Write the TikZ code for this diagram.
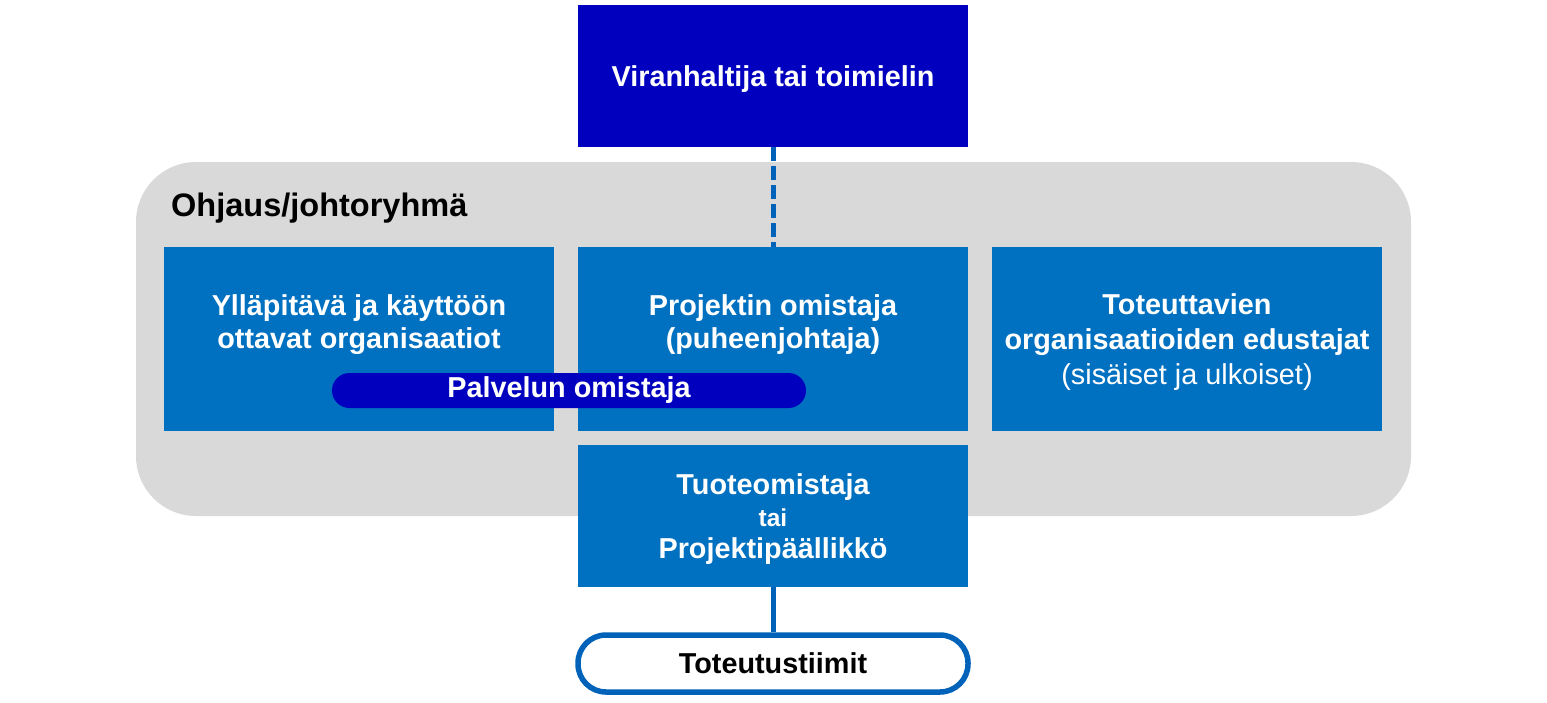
\documentclass[tikz,border=0pt]{standalone}
\usepackage{fontspec}
\setmainfont{Liberation Sans}
\definecolor{navy}{RGB}{0,0,190}
\definecolor{midblue}{RGB}{0,112,192}
\definecolor{linkblue}{RGB}{0,98,184}
\definecolor{panelgray}{RGB}{217,217,217}
\begin{document}
\begin{tikzpicture}[x=1pt,y=-1pt,
  bigfont/.style={font=\fontsize{28.8}{34.6}\selectfont\bfseries},
  box/.style={rectangle, fill=midblue, text=white, minimum width=390pt, minimum height=184pt, align=center, inner sep=0pt, bigfont},
  topbox/.style={rectangle, fill=navy, text=white, minimum width=390pt, minimum height=142pt, align=center, inner sep=0pt, bigfont},
  panel/.style={rectangle, fill=panelgray, rounded corners=60pt, minimum width=1275pt, minimum height=354pt, inner sep=0pt},
  ownerpill/.style={rectangle, fill=navy, text=white, rounded corners=17.5pt, minimum width=474pt, minimum height=35pt, inner sep=0pt, bigfont},
  teampill/.style={rectangle, draw=linkblue, line width=5.5pt, fill=white, text=black, rounded corners=28pt, minimum width=390pt, minimum height=57pt, inner sep=0pt, bigfont},
  dashline/.style={draw=linkblue, line width=5pt, dash pattern=on 14pt off 5pt},
  solidline/.style={draw=linkblue, line width=5pt}
]
\useasboundingbox (0,0) rectangle (1547,702);
\node[panel] (panel) at (773.5,339) {};
\node[font=\fontsize{32.5}{39}\selectfont\bfseries, anchor=base west, inner sep=0pt, text=black] (paneltitle) at (171,216) {Ohjaus/johtoryhmä};
\node[topbox, text height=21.6pt, text depth=0pt] (top) at (773,76) {Viranhaltija tai toimielin};
\node[box] (left) at (359,339) {Ylläpitävä ja käyttöön\\[-1.5pt]ottavat organisaatiot\\\mbox{}};
\node[box] (mid) at (773,339) {Projektin omistaja\\[-1.5pt](puheenjohtaja)\\\mbox{}};
\node[box, text depth=0pt] (right) at (1187,339) {Toteuttavien\\organisaatioiden edustajat\\{\mdseries (sisäiset ja ulkoiset)}};
\node[box, minimum height=142pt, text depth=0pt] (tuote) at (773,516) {Tuoteomistaja\\[-2.5pt]{\fontsize{24.5}{29}\selectfont tai}\\[-2.5pt]Projektipäällikkö};
\node[ownerpill] (owner) at (569,390.5) {Palvelun omistaja};
\node[teampill] (teams) at (773,663.5) {Toteutustiimit};
\draw[dashline] (top.south) -- (mid.north);
\draw[solidline] (tuote.south) -- (teams.north);
\end{tikzpicture}
\end{document}
